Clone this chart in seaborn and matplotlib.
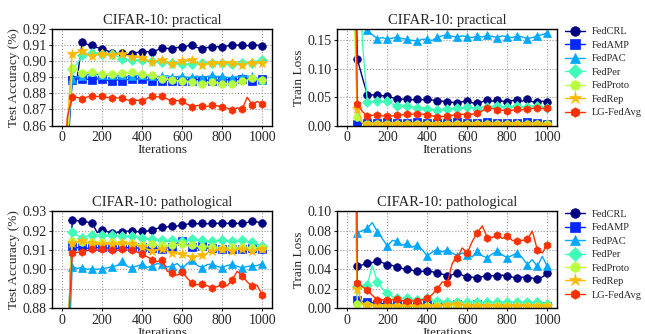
import matplotlib
matplotlib.use("Agg")
import matplotlib.pyplot as plt
import seaborn as sns

sns.set_theme(style="ticks")
plt.rcParams['font.family'] = ['Liberation Serif', 'DejaVu Serif']

iters = list(range(0, 1001, 25))
methods = ["FedCRL", "FedAMP", "FedPAC", "FedPer", "FedProto", "FedRep", "LG-FedAvg"]
colors = ["#000080", "#0028ff", "#00a8ff", "#40ffb8", "#b8ff40", "#ffb900", "#ff3000"]
markers = ["o", "s", "^", "D", "o", "*", "h"]

# ---- CIFAR-10 practical: test accuracy
pa_FedCRL = [0.80, 0.84, 0.889, 0.890, 0.9118, 0.9105, 0.9098, 0.9085, 0.9078, 0.9065, 0.9053, 0.9045, 0.9050, 0.9040,
             0.9047, 0.9055, 0.9057, 0.9060, 0.9057, 0.9070, 0.9082, 0.9080, 0.9078, 0.9085, 0.9088, 0.9095, 0.9102,
             0.9085, 0.9078, 0.9085, 0.9088, 0.9090, 0.9090, 0.9095, 0.9098, 0.9100, 0.9102, 0.9097, 0.9098, 0.9100, 0.9097]
pa_FedAMP = [0.80, 0.85, 0.8885, 0.8890, 0.8892, 0.8888, 0.8886, 0.8890, 0.8887, 0.8882, 0.8878, 0.8884, 0.8880, 0.8886,
             0.8887, 0.8890, 0.8887, 0.8884, 0.8880, 0.8884, 0.8880, 0.8883, 0.8880, 0.8885, 0.8880, 0.8884, 0.8880,
             0.8886, 0.8884, 0.8882, 0.8878, 0.8883, 0.8880, 0.8885, 0.8880, 0.8886, 0.8887, 0.8890, 0.8880, 0.8886, 0.8892]
pa_FedPAC = [0.80, 0.845, 0.8890, 0.8905, 0.8906, 0.8915, 0.8933, 0.8918, 0.8912, 0.8915, 0.8912, 0.8908, 0.8912, 0.8905,
             0.8906, 0.8912, 0.8912, 0.8908, 0.8906, 0.8902, 0.8906, 0.8910, 0.8902, 0.8905, 0.8906, 0.8900, 0.8902,
             0.8908, 0.8898, 0.8905, 0.8912, 0.8905, 0.8906, 0.8900, 0.8898, 0.8905, 0.8902, 0.8908, 0.8906, 0.8895, 0.8886]
pa_FedPer = [0.80, 0.85, 0.8950, 0.8985, 0.9037, 0.9045, 0.9053, 0.9050, 0.9047, 0.9045, 0.9047, 0.9030, 0.9016, 0.9012,
             0.9010, 0.9008, 0.9010, 0.9004, 0.9000, 0.8998, 0.8996, 0.8990, 0.8986, 0.8984, 0.8980, 0.8982, 0.8980,
             0.8984, 0.8986, 0.8990, 0.8990, 0.8988, 0.8992, 0.8986, 0.8980, 0.8986, 0.8990, 0.8995, 0.8992, 0.9002, 0.9006]
pa_FedProto = [0.80, 0.85, 0.8955, 0.8940, 0.8927, 0.8930, 0.8933, 0.8925, 0.8918, 0.8920, 0.8918, 0.8922, 0.8927, 0.8930,
               0.8933, 0.8925, 0.8918, 0.8915, 0.8912, 0.8900, 0.8892, 0.8888, 0.8882, 0.8880, 0.8878, 0.8875, 0.8871,
               0.8866, 0.8861, 0.8866, 0.8871, 0.8866, 0.8861, 0.8862, 0.8861, 0.8868, 0.8876, 0.8885, 0.8896, 0.8888, 0.8882]
pa_FedRep = [0.80, 0.86, 0.9047, 0.9055, 0.9063, 0.9045, 0.9030, 0.9040, 0.9047, 0.9040, 0.9037, 0.9042, 0.9047, 0.9035,
             0.9027, 0.9025, 0.9022, 0.9008, 0.8996, 0.9004, 0.9010, 0.8995, 0.8980, 0.8992, 0.9000, 0.9004, 0.9006,
             0.8990, 0.8976, 0.8982, 0.8986, 0.8988, 0.8986, 0.8990, 0.8990, 0.8982, 0.8976, 0.8985, 0.8992, 0.8990, 0.8986]
pa_LG = [0.80, 0.865, 0.8780, 0.8775, 0.8765, 0.8778, 0.8784, 0.8780, 0.8784, 0.8775, 0.8770, 0.8772, 0.8770, 0.8760,
         0.8750, 0.8758, 0.8750, 0.8770, 0.8784, 0.8778, 0.8784, 0.8765, 0.8750, 0.8755, 0.8750, 0.8732, 0.8718,
         0.8725, 0.8722, 0.8718, 0.8729, 0.8722, 0.8718, 0.8708, 0.8694, 0.8710, 0.8702, 0.8776, 0.8730, 0.8750, 0.8735]

# ---- CIFAR-10 practical: train loss
pl_FedCRL = [2.0, 0.6, 0.117, 0.085, 0.0547, 0.0540, 0.0530, 0.0525, 0.0520, 0.0490, 0.0470, 0.0465, 0.0460, 0.0455,
             0.0460, 0.0455, 0.0460, 0.0450, 0.0440, 0.0430, 0.0420, 0.0410, 0.0400, 0.0420, 0.0430, 0.0400, 0.0390,
             0.0420, 0.0450, 0.0430, 0.0450, 0.0430, 0.0420, 0.0440, 0.0450, 0.0430, 0.0460, 0.0420, 0.0410, 0.0430, 0.0410]
pl_FedAMP = [2.0, 0.5, 0.0030, 0.0040, 0.0050, 0.0048, 0.0052, 0.0050, 0.0055, 0.0050, 0.0053, 0.0048, 0.0052, 0.0050,
             0.0054, 0.0050, 0.0052, 0.0048, 0.0053, 0.0050, 0.0052, 0.0049, 0.0054, 0.0050, 0.0052, 0.0048, 0.0053,
             0.0050, 0.0054, 0.0050, 0.0052, 0.0049, 0.0053, 0.0050, 0.0052, 0.0049, 0.0054, 0.0050, 0.0052, 0.0035, 0.0020]
pl_FedPAC = [3.0, 1.5, 0.8, 0.5, 0.168, 0.160, 0.153, 0.155, 0.152, 0.154, 0.156, 0.153, 0.152, 0.150,
             0.149, 0.152, 0.152, 0.150, 0.156, 0.158, 0.1606, 0.157, 0.156, 0.158, 0.1565, 0.155, 0.158,
             0.156, 0.159, 0.157, 0.155, 0.158, 0.1565, 0.155, 0.158, 0.156, 0.153, 0.155, 0.158, 0.160, 0.1635]
pl_FedPer = [2.0, 1.0, 0.5, 0.15, 0.041, 0.042, 0.043, 0.042, 0.043, 0.038, 0.035, 0.036, 0.035, 0.033,
             0.031, 0.032, 0.030, 0.029, 0.028, 0.029, 0.030, 0.029, 0.031, 0.030, 0.033, 0.031, 0.030,
             0.032, 0.033, 0.034, 0.035, 0.033, 0.033, 0.034, 0.034, 0.033, 0.033, 0.034, 0.035, 0.033, 0.031]
pl_FedProto = [2.0, 0.3, 0.015, 0.005, 0.0035, 0.0033, 0.0036, 0.0034, 0.0035, 0.0033, 0.0036, 0.0034, 0.0035, 0.0033,
               0.0036, 0.0034, 0.0035, 0.0033, 0.0036, 0.0034, 0.0035, 0.0033, 0.0036, 0.0034, 0.0035, 0.0033, 0.0036,
               0.0034, 0.0035, 0.0033, 0.0036, 0.0034, 0.0035, 0.0033, 0.0036, 0.0034, 0.0035, 0.0033, 0.0034, 0.0032, 0.0030]
pl_FedRep = [2.0, 0.4, 0.030, 0.005, 0.0020, 0.0018, 0.0020, 0.0017, 0.0019, 0.0018, 0.0020, 0.0017, 0.0019, 0.0018,
             0.0020, 0.0017, 0.0019, 0.0018, 0.0020, 0.0017, 0.0019, 0.0018, 0.0020, 0.0017, 0.0019, 0.0018, 0.0020,
             0.0017, 0.0019, 0.0018, 0.0020, 0.0017, 0.0019, 0.0018, 0.0020, 0.0017, 0.0019, 0.0018, 0.0020, 0.0017, 0.0015]
pl_LG = [2.0, 0.8, 0.038, 0.025, 0.0165, 0.018, 0.019, 0.017, 0.0165, 0.017, 0.018, 0.019, 0.021, 0.020,
         0.0205, 0.020, 0.019, 0.017, 0.015, 0.016, 0.0165, 0.018, 0.019, 0.020, 0.019, 0.020, 0.022,
         0.026, 0.031, 0.030, 0.028, 0.027, 0.025, 0.027, 0.029, 0.028, 0.029, 0.030, 0.031, 0.030, 0.031]

# ---- CIFAR-10 pathological: test accuracy
ha_FedCRL = [0.80, 0.85, 0.9258, 0.9252, 0.9249, 0.9245, 0.9239, 0.9190, 0.9204, 0.9195, 0.9190, 0.9192, 0.9195, 0.9198,
             0.9200, 0.9195, 0.9197, 0.9198, 0.9204, 0.9212, 0.9218, 0.9220, 0.9223, 0.9225, 0.9230, 0.9234, 0.9239,
             0.9236, 0.9239, 0.9236, 0.9240, 0.9238, 0.9240, 0.9238, 0.9240, 0.9238, 0.9240, 0.9243, 0.9249, 0.9245, 0.9242]
ha_FedAMP = [0.80, 0.85, 0.9120, 0.9112, 0.9120, 0.9108, 0.9120, 0.9112, 0.9116, 0.9110, 0.9114, 0.9108, 0.9120, 0.9112,
             0.9116, 0.9110, 0.9118, 0.9110, 0.9112, 0.9106, 0.9104, 0.9112, 0.9116, 0.9135, 0.9147, 0.9125, 0.9116,
             0.9110, 0.9120, 0.9110, 0.9112, 0.9106, 0.9104, 0.9110, 0.9106, 0.9110, 0.9107, 0.9104, 0.9110, 0.9106, 0.9107]
ha_FedPAC = [0.80, 0.84, 0.9014, 0.9005, 0.9009, 0.9000, 0.9003, 0.9000, 0.9003, 0.9008, 0.9014, 0.9020, 0.9044, 0.9015,
             0.9009, 0.9018, 0.9026, 0.9010, 0.9018, 0.9030, 0.9026, 0.9012, 0.9018, 0.9030, 0.9005, 0.9030, 0.9051,
             0.9020, 0.9009, 0.9025, 0.9026, 0.9015, 0.9009, 0.9020, 0.9026, 0.9015, 0.9009, 0.9015, 0.9018, 0.9020, 0.9030]
ha_FedPer = [0.80, 0.86, 0.9191, 0.9175, 0.9165, 0.9172, 0.9177, 0.9175, 0.9177, 0.9172, 0.9177, 0.9172, 0.9174, 0.9170,
             0.9174, 0.9168, 0.9165, 0.9160, 0.9156, 0.9152, 0.9150, 0.9145, 0.9150, 0.9146, 0.9147, 0.9150, 0.9156,
             0.9150, 0.9150, 0.9145, 0.9147, 0.9150, 0.9153, 0.9148, 0.9147, 0.9150, 0.9150, 0.9145, 0.9140, 0.9130, 0.9120]
ha_FedProto = [0.80, 0.86, 0.9147, 0.9142, 0.9140, 0.9135, 0.9140, 0.9135, 0.9140, 0.9135, 0.9140, 0.9132, 0.9135, 0.9130,
               0.9135, 0.9130, 0.9128, 0.9125, 0.9130, 0.9125, 0.9125, 0.9122, 0.9128, 0.9130, 0.9130, 0.9122, 0.9125,
               0.9118, 0.9116, 0.9120, 0.9115, 0.9110, 0.9112, 0.9110, 0.9115, 0.9110, 0.9114, 0.9112, 0.9110, 0.9112, 0.9112]
ha_FedRep = [0.80, 0.86, 0.9139, 0.9142, 0.9147, 0.9138, 0.9135, 0.9130, 0.9130, 0.9132, 0.9130, 0.9128, 0.9135, 0.9132,
             0.9130, 0.9125, 0.9117, 0.9105, 0.9095, 0.9100, 0.9104, 0.9095, 0.9086, 0.9080, 0.9077, 0.9070, 0.9065,
             0.9068, 0.9072, 0.9085, 0.9095, 0.9100, 0.9104, 0.9100, 0.9095, 0.9102, 0.9107, 0.9100, 0.9095, 0.9100, 0.9104]
ha_LG = [0.80, 0.86, 0.9083, 0.9088, 0.9090, 0.9098, 0.9104, 0.9100, 0.9104, 0.9100, 0.9100, 0.9098, 0.9104, 0.9100,
         0.9100, 0.9090, 0.9077, 0.9065, 0.9051, 0.9040, 0.9051, 0.8990, 0.8981, 0.8970, 0.8984, 0.8955, 0.8928,
         0.8920, 0.8925, 0.8915, 0.8904, 0.8910, 0.8925, 0.8915, 0.8946, 0.8990, 0.8967, 0.8935, 0.8912, 0.8918, 0.8867]

# ---- CIFAR-10 pathological: train loss
hl_FedCRL = [2.0, 0.5, 0.0437, 0.0445, 0.0465, 0.0470, 0.0490, 0.0470, 0.0448, 0.0440, 0.0420, 0.0410, 0.0400, 0.0390,
             0.0378, 0.0380, 0.0385, 0.0375, 0.0360, 0.0350, 0.0332, 0.0345, 0.0360, 0.0340, 0.0318, 0.0320, 0.0308,
             0.0325, 0.0332, 0.0335, 0.0332, 0.0340, 0.0332, 0.0320, 0.0308, 0.0320, 0.0315, 0.0310, 0.0297, 0.0320, 0.0360]
hl_FedAMP = [2.0, 0.4, 0.0080, 0.0070, 0.0060, 0.0055, 0.0045, 0.0045, 0.0040, 0.0038, 0.0040, 0.0036, 0.0039, 0.0035,
             0.0038, 0.0036, 0.0039, 0.0035, 0.0038, 0.0036, 0.0035, 0.0033, 0.0036, 0.0034, 0.0035, 0.0033, 0.0036,
             0.0034, 0.0035, 0.0033, 0.0034, 0.0032, 0.0033, 0.0031, 0.0032, 0.0030, 0.0031, 0.0029, 0.0028, 0.0025, 0.0020]
hl_FedPAC = [3.0, 0.8, 0.0780, 0.0800, 0.0825, 0.0885, 0.0790, 0.0720, 0.0640, 0.0700, 0.0690, 0.0650, 0.0670, 0.0630,
             0.0657, 0.0600, 0.0542, 0.0580, 0.0605, 0.0580, 0.0605, 0.0570, 0.0540, 0.0570, 0.0550, 0.0530, 0.0587,
             0.0540, 0.0520, 0.0560, 0.0587, 0.0550, 0.0520, 0.0545, 0.0570, 0.0520, 0.0450, 0.0500, 0.0430, 0.0535, 0.0430]
hl_FedPer = [2.0, 0.6, 0.0227, 0.0230, 0.0238, 0.0437, 0.0273, 0.0200, 0.0150, 0.0120, 0.0098, 0.0095, 0.0098, 0.0090,
             0.0087, 0.0090, 0.0098, 0.0080, 0.0070, 0.0065, 0.0065, 0.0060, 0.0065, 0.0060, 0.0065, 0.0058, 0.0065,
             0.0060, 0.0065, 0.0058, 0.0062, 0.0060, 0.0065, 0.0058, 0.0062, 0.0058, 0.0065, 0.0055, 0.0060, 0.0050, 0.0040]
hl_FedProto = [2.0, 0.3, 0.0045, 0.0035, 0.0030, 0.0027, 0.0025, 0.0026, 0.0024, 0.0025, 0.0023, 0.0025, 0.0024, 0.0026,
               0.0024, 0.0025, 0.0023, 0.0025, 0.0024, 0.0026, 0.0024, 0.0025, 0.0023, 0.0025, 0.0024, 0.0026, 0.0024,
               0.0025, 0.0023, 0.0025, 0.0024, 0.0026, 0.0024, 0.0025, 0.0023, 0.0025, 0.0024, 0.0023, 0.0022, 0.0021, 0.0020]
hl_FedRep = [2.0, 0.4, 0.0200, 0.0050, 0.0030, 0.0025, 0.0022, 0.0020, 0.0021, 0.0019, 0.0020, 0.0018, 0.0020, 0.0019,
             0.0021, 0.0019, 0.0020, 0.0018, 0.0020, 0.0025, 0.0030, 0.0035, 0.0040, 0.0030, 0.0022, 0.0020, 0.0019,
             0.0020, 0.0018, 0.0020, 0.0019, 0.0021, 0.0019, 0.0020, 0.0018, 0.0020, 0.0019, 0.0020, 0.0018, 0.0017, 0.0016]
hl_LG = [2.0, 0.8, 0.0262, 0.0220, 0.0185, 0.0130, 0.0087, 0.0085, 0.0080, 0.0085, 0.0088, 0.0075, 0.0070, 0.0072,
         0.0070, 0.0085, 0.0098, 0.0140, 0.0200, 0.0270, 0.0255, 0.0465, 0.0520, 0.0622, 0.0570, 0.0690, 0.0780,
         0.0850, 0.0727, 0.0730, 0.0760, 0.0720, 0.0745, 0.0700, 0.0690, 0.0700, 0.0710, 0.0797, 0.0605, 0.0570, 0.0657]

panels = [
    ("CIFAR-10: practical", "Test Accuracy (%)", (0.86, 0.92), [0.86, 0.87, 0.88, 0.89, 0.90, 0.91, 0.92],
     [pa_FedCRL, pa_FedAMP, pa_FedPAC, pa_FedPer, pa_FedProto, pa_FedRep, pa_LG]),
    ("CIFAR-10: practical", "Train Loss", (0.0, 0.17), [0.00, 0.05, 0.10, 0.15],
     [pl_FedCRL, pl_FedAMP, pl_FedPAC, pl_FedPer, pl_FedProto, pl_FedRep, pl_LG]),
    ("CIFAR-10: pathological", "Test Accuracy (%)", (0.88, 0.93), [0.88, 0.89, 0.90, 0.91, 0.92, 0.93],
     [ha_FedCRL, ha_FedAMP, ha_FedPAC, ha_FedPer, ha_FedProto, ha_FedRep, ha_LG]),
    ("CIFAR-10: pathological", "Train Loss", (0.0, 0.10), [0.00, 0.02, 0.04, 0.06, 0.08, 0.10],
     [hl_FedCRL, hl_FedAMP, hl_FedPAC, hl_FedPer, hl_FedProto, hl_FedRep, hl_LG]),
]

fig, axes = plt.subplots(2, 2, figsize=(6.45, 3.34), dpi=100)
fig.subplots_adjust(left=0.081, right=0.864, top=0.913, bottom=0.078, wspace=0.296, hspace=0.89)

for ax, (title, ylab, ylim, yticks, series) in zip(axes.flat, panels):
    for name, vals, c, m in zip(methods, series, colors, markers):
        ms = 7.5 if m == "*" else 5.5
        sns.lineplot(x=iters, y=vals, ax=ax, color=c, marker=m, markevery=(2, 2), markersize=ms,
                     markeredgecolor=c, markeredgewidth=0.5, linewidth=1, label=name)
    ax.set_xlim(-50, 1050)
    ax.set_xticks([0, 200, 400, 600, 800, 1000])
    ax.set_ylim(*ylim)
    ax.set_yticks(yticks)
    ax.set_title(title, fontsize=10.5, pad=4)
    ax.set_xlabel("Iterations", fontsize=9.5, labelpad=0)
    ax.set_ylabel(ylab, fontsize=9.5, labelpad=2)
    ax.tick_params(labelsize=10, length=2.5, width=0.8, pad=1.5)
    ax.grid(True, ls=":", color="#999999", lw=0.8)
    for s in ax.spines.values():
        s.set_color("black")
        s.set_linewidth(1)
    ax.get_legend().remove()

for ax in axes[:, 1]:
    ax.legend(loc="upper left", bbox_to_anchor=(1.036, 1.02), frameon=False, fontsize=7.5,
              handlelength=1.9, labelspacing=0.4, borderaxespad=0, borderpad=0,
              handletextpad=0.65, markerscale=1.25)

fig.savefig("out.png", dpi=100)
